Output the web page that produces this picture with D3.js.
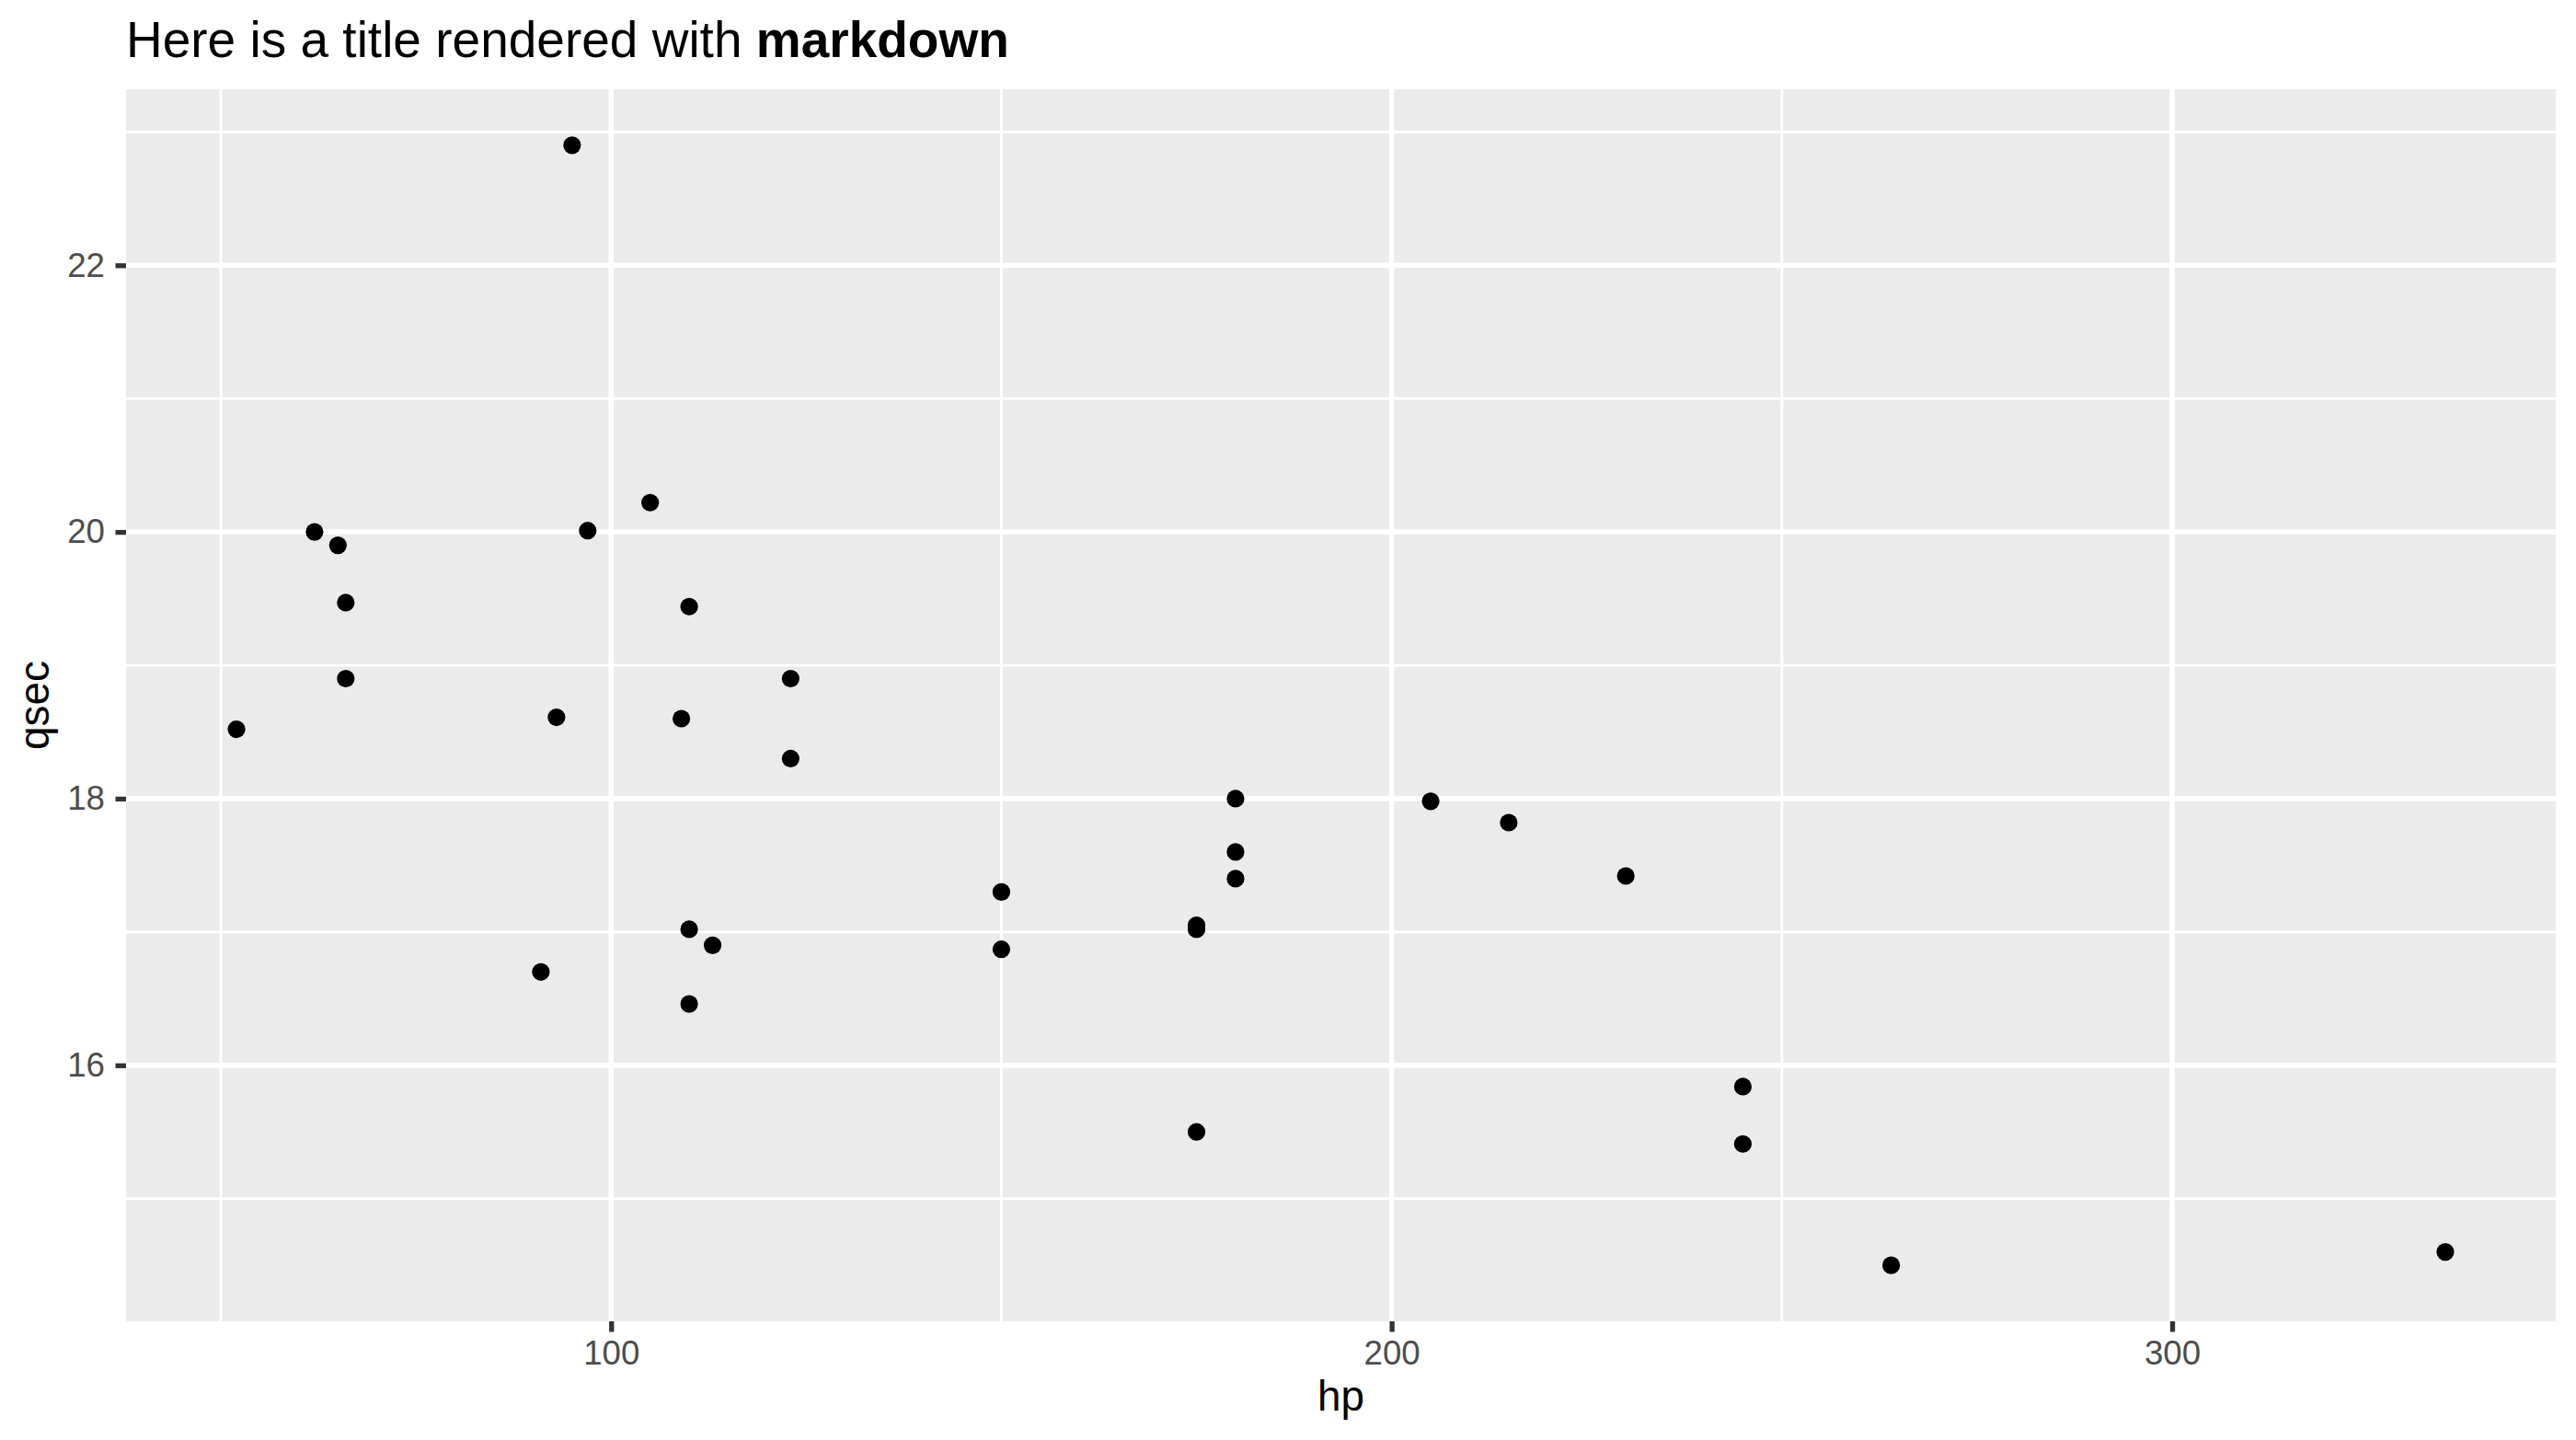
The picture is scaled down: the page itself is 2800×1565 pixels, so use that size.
<!DOCTYPE html>
<html><head><meta charset="utf-8">
<script src="https://cdn.jsdelivr.net/npm/d3@7"></script>
<style>body{margin:0;background:#fff}svg{display:block}</style>
</head><body>
<script>
const hp   = [110,110,93,110,175,105,245,62,95,123,123,180,180,180,205,215,230,66,52,65,97,150,150,245,175,66,91,113,264,175,335,109];
const qsec = [16.46,17.02,18.61,19.44,17.02,20.22,15.84,20.00,22.90,18.30,18.90,17.40,17.60,18.00,17.98,17.82,17.42,19.47,18.52,19.90,20.01,16.87,17.30,15.41,17.05,18.90,16.70,16.90,14.50,15.50,14.60,18.60];
const xTicks = [100,200,300];
const xMinor = [50,150,250];
const yTicks = [16,18,20,22];
const yMinor = [15,17,19,21,23];

const W = 2800, H = 1565;
const L = 137, R = 2778, T = 97, B = 1436;
const svg = d3.select("body").append("svg").attr("width",W).attr("height",H);
const font = "'Liberation Sans', Arial, Helvetica, sans-serif";

const xr = d3.extent(hp), yr = d3.extent(qsec);
const xp = (xr[1]-xr[0])*0.05, yp = (yr[1]-yr[0])*0.05;
const x = d3.scaleLinear().domain([xr[0]-xp, xr[1]+xp]).range([L,R]);
const y = d3.scaleLinear().domain([yr[0]-yp, yr[1]+yp]).range([B,T]);

svg.append("rect").attr("x",L).attr("y",T).attr("width",R-L).attr("height",B-T).attr("fill","#EBEBEB");

const g = svg.append("g");
g.selectAll(".xm").data(xMinor).join("line").attr("x1",d=>x(d)).attr("x2",d=>x(d)).attr("y1",T).attr("y2",B).attr("stroke","#fff").attr("stroke-width",2.8);
g.selectAll(".ym").data(yMinor).join("line").attr("y1",d=>y(d)).attr("y2",d=>y(d)).attr("x1",L).attr("x2",R).attr("stroke","#fff").attr("stroke-width",2.8);
g.selectAll(".xM").data(xTicks).join("line").attr("x1",d=>x(d)).attr("x2",d=>x(d)).attr("y1",T).attr("y2",B).attr("stroke","#fff").attr("stroke-width",5.5);
g.selectAll(".yM").data(yTicks).join("line").attr("y1",d=>y(d)).attr("y2",d=>y(d)).attr("x1",L).attr("x2",R).attr("stroke","#fff").attr("stroke-width",5.5);

svg.append("g").selectAll("circle").data(hp.map((h,i)=>[h,qsec[i]])).join("circle")
  .attr("cx",d=>x(d[0])).attr("cy",d=>y(d[1])).attr("r",9.6).attr("fill","#000");

// axes
const xAxis = d3.axisBottom(x).tickValues(xTicks).tickSize(11.5).tickPadding(9.5).tickFormat(d3.format("d"));
const gx = svg.append("g").attr("transform",`translate(0,${B})`).call(xAxis);
const yAxis = d3.axisLeft(y).tickValues(yTicks).tickSize(11.5).tickPadding(11.5).tickFormat(d3.format("d"));
const gy = svg.append("g").attr("transform",`translate(${L},0)`).call(yAxis);
[gx,gy].forEach(a=>{
  a.select(".domain").remove();
  a.selectAll(".tick line").attr("stroke","#333333").attr("stroke-width",5.3);
  a.selectAll(".tick text").attr("fill","#4D4D4D").attr("font-family",font).attr("font-size",36.7);
});

svg.append("text").attr("x",(L+R)/2).attr("y",1533).attr("text-anchor","middle")
  .attr("font-family",font).attr("font-size",45.8).attr("fill","#000").text("hp");
svg.append("text").attr("transform",`translate(53,${(T+B)/2}) rotate(-90)`).attr("text-anchor","middle")
  .attr("font-family",font).attr("font-size",45.8).attr("fill","#000").text("qsec");

const title = svg.append("text").attr("x",L).attr("y",62).attr("font-family",font).attr("font-size",55).attr("fill","#000");
title.append("tspan").text("Here is a title rendered with ");
title.append("tspan").attr("font-weight","bold").text("markdown");
</script>
</body></html>
